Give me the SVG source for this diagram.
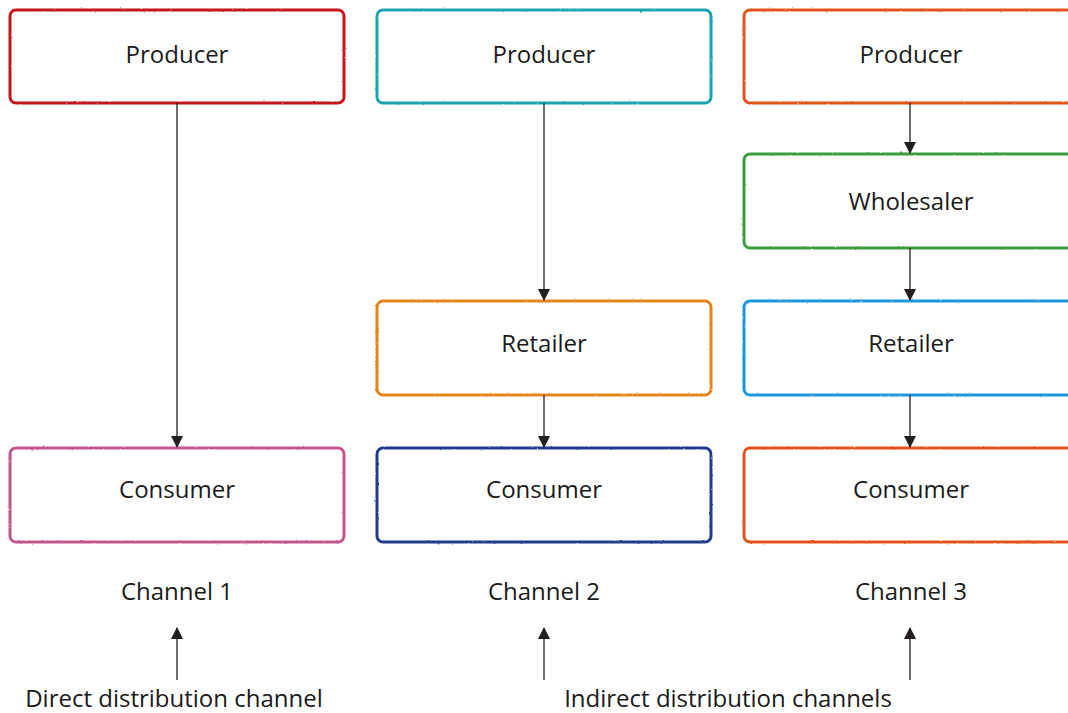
<svg xmlns="http://www.w3.org/2000/svg" width="1068" height="713" viewBox="0 0 1068 713">
  <defs>
    <style>
      .box { fill: #ffffff; stroke-width: 3; filter: url(#rough); }
      .lbl { font-family: "Open Sans", "Liberation Sans", sans-serif; font-size: 24px; fill: #1a1a1a; text-anchor: middle; }
      .edge { stroke: #231f20; stroke-width: 1.3; fill: none; marker-end: url(#head); }
    </style>
    <marker id="head" viewBox="0 0 12 12" refX="11" refY="6" markerWidth="12" markerHeight="12" markerUnits="userSpaceOnUse" orient="auto">
      <path d="M0,0 L12,6 L0,12 Z" fill="#231f20"/>
    </marker>
    <!-- slightly ragged, hand-drawn brush outline -->
    <filter id="rough" x="-5%" y="-10%" width="110%" height="120%">
      <feTurbulence type="fractalNoise" baseFrequency="0.35" numOctaves="2" seed="4" result="n"/>
      <feDisplacementMap in="SourceGraphic" in2="n" scale="1.8" xChannelSelector="R" yChannelSelector="G"/>
    </filter>
  </defs>

  <!-- Channel 1 -->
  <g id="producer-1">
    <rect class="box" x="10" y="10" width="334" height="93" rx="6" stroke="#c4161c"/>
    <text class="lbl" x="177" y="63">Producer</text>
  </g>
  <g id="consumer-1">
    <rect class="box" x="10" y="448" width="334" height="94" rx="6" stroke="#c4558c"/>
    <text class="lbl" x="177" y="498">Consumer</text>
  </g>

  <!-- Channel 2 -->
  <g id="producer-2">
    <rect class="box" x="377" y="10" width="334" height="93" rx="6" stroke="#1ba3b1"/>
    <text class="lbl" x="544" y="63">Producer</text>
  </g>
  <g id="retailer-2">
    <rect class="box" x="377" y="301" width="334" height="94" rx="6" stroke="#e8841f"/>
    <text class="lbl" x="544" y="352">Retailer</text>
  </g>
  <g id="consumer-2">
    <rect class="box" x="377" y="448" width="334" height="94" rx="6" stroke="#233a8c"/>
    <text class="lbl" x="544" y="498">Consumer</text>
  </g>

  <!-- Channel 3 -->
  <g id="producer-3">
    <rect class="box" x="744" y="10" width="334" height="93" rx="6" stroke="#e2521c"/>
    <text class="lbl" x="911" y="63">Producer</text>
  </g>
  <g id="wholesaler-3">
    <rect class="box" x="744" y="154" width="334" height="94" rx="6" stroke="#3a9d3c"/>
    <text class="lbl" x="911" y="210">Wholesaler</text>
  </g>
  <g id="retailer-3">
    <rect class="box" x="744" y="301" width="334" height="94" rx="6" stroke="#1b97d9"/>
    <text class="lbl" x="911" y="352">Retailer</text>
  </g>
  <g id="consumer-3">
    <rect class="box" x="744" y="448" width="334" height="94" rx="6" stroke="#e2521c"/>
    <text class="lbl" x="911" y="498">Consumer</text>
  </g>

  <!-- Channel captions and category labels -->
  <g id="captions">
    <text class="lbl" x="177" y="600">Channel 1</text>
    <text class="lbl" x="544" y="600">Channel 2</text>
    <text class="lbl" x="911" y="600">Channel 3</text>
    <text class="lbl" x="174" y="707">Direct distribution channel</text>
    <text class="lbl" x="728" y="707">Indirect distribution channels</text>
  </g>

  <!-- Connectors -->
  <g id="connectors">
    <line class="edge" x1="177" y1="103" x2="177" y2="447"/>
    <line class="edge" x1="544" y1="103" x2="544" y2="300"/>
    <line class="edge" x1="544" y1="395" x2="544" y2="447"/>
    <line class="edge" x1="910" y1="103" x2="910" y2="153"/>
    <line class="edge" x1="910" y1="248" x2="910" y2="300"/>
    <line class="edge" x1="910" y1="395" x2="910" y2="447"/>
    <line class="edge" x1="177" y1="680" x2="177" y2="628"/>
    <line class="edge" x1="544" y1="680" x2="544" y2="628"/>
    <line class="edge" x1="910" y1="680" x2="910" y2="628"/>
  </g>
</svg>
